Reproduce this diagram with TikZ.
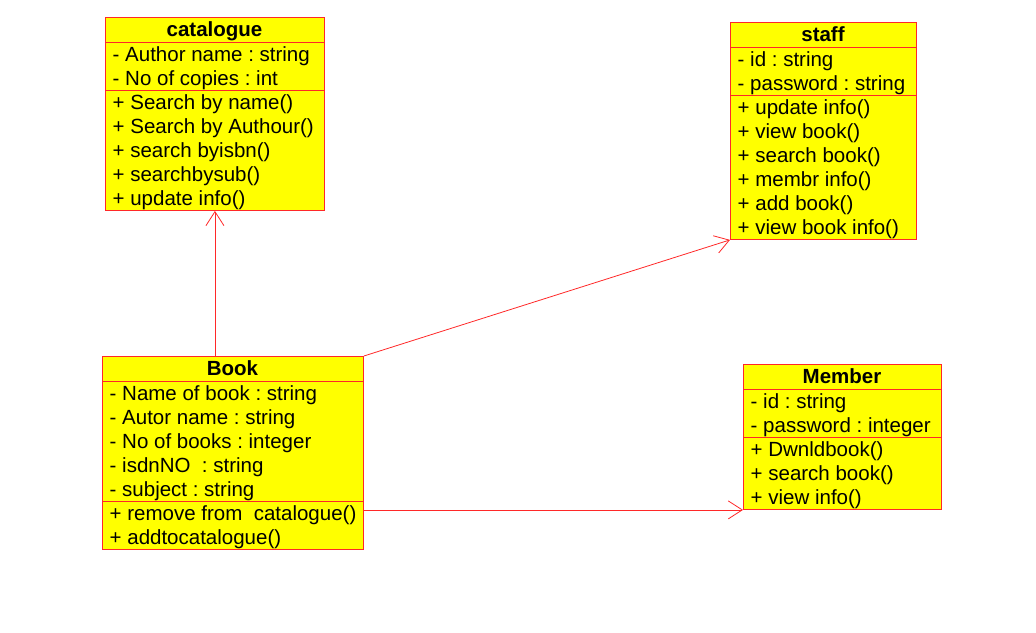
\documentclass[tikz,border=0pt]{standalone}
\usepackage{fontspec}
\setmainfont{Liberation Sans}
\usetikzlibrary{arrows.meta}
\definecolor{boxred}{RGB}{255,40,40}
\definecolor{boxyellow}{RGB}{255,255,0}
\frenchspacing
\tikzset{
  classbox/.style={draw=boxred, fill=boxyellow, line width=0.9pt, inner sep=0pt, rectangle},
  septline/.style={draw=boxred, line width=0.9pt},
  classtitle/.style={anchor=base, inner sep=0pt, font=\fontsize{20.5}{24}\selectfont\bfseries},
  rowtext/.style={anchor=base west, inner sep=0pt, font=\fontsize{20.5}{24}\selectfont},
  assoc/.style={draw=boxred, line width=0.8pt, -{Straight Barb[length=14pt,width=18pt]}}
}
% #1 name, #2 left, #3 top, #4 width, #5 title, #6 n attrs, #7 attrs, #8 n methods, #9 methods
\newcommand{\umlclass}[9]{%
  \pgfmathsetmacro\clsA{#3+25}%
  \pgfmathsetmacro\clsB{#3+25+24*#6}%
  \pgfmathsetmacro\clsH{25+24*(#6+#8)}%
  \pgfmathsetmacro\clsR{#2+#4}%
  \pgfmathsetmacro\clsM{#2+#4/2}%
  \node[classbox, minimum width=#4pt, minimum height=\clsH pt, anchor=north west] (#1) at (#2,#3) {};
  \draw[septline] (#2,\clsA) -- (\clsR,\clsA);
  \draw[septline] (#2,\clsB) -- (\clsR,\clsB);
  \node[classtitle] (#1-title) at (\clsM,{#3+19}) {#5};
  \foreach \t [count=\i from 0] in {#7} {
    \node[rowtext] (#1-a\i) at ({#2+7.5},{\clsA+19+24*\i}) {\t};
  }
  \foreach \t [count=\i from 0] in {#9} {
    \node[rowtext] (#1-m\i) at ({#2+7.5},{\clsB+19+24*\i}) {\t};
  }
}
\begin{document}
\begin{tikzpicture}[x=1pt,y=-1pt]
\useasboundingbox (0,0) rectangle (1036,632);

\umlclass{cat}{105}{17}{219}{catalogue}{2}{{- Author name : string},{- No of copies : int}}{5}{{+ Search by name()},{+ Search by Authour()},{+ search byisbn()},{+ searchbysub()},{+ update info()}}

\umlclass{staff}{730}{22}{186}{staff}{2}{{- id : string},{- password : string}}{6}{{+ update info()},{+ view book()},{+ search book()},{+ membr info()},{+ add book()},{+ view book info()}}

\umlclass{book}{102}{356}{261}{Book}{5}{{- Name of book : string},{- Autor name : string},{- No of books : integer},{- isdnNO\ \ : string},{- subject : string}}{2}{{+ remove from\ \ catalogue()},{+ addtocatalogue()}}

\umlclass{member}{743}{364}{198}{Member}{2}{{- id : string},{- password : integer}}{3}{{+ Dwnldbook()},{+ search book()},{+ view info()}}

\draw[assoc] (cat.south |- book.north) -- (cat.south);
\draw[assoc] (book.north east) -- (staff.south west);
\draw[assoc] (member.south west -| book.east) -- (member.south west);
\end{tikzpicture}
\end{document}
